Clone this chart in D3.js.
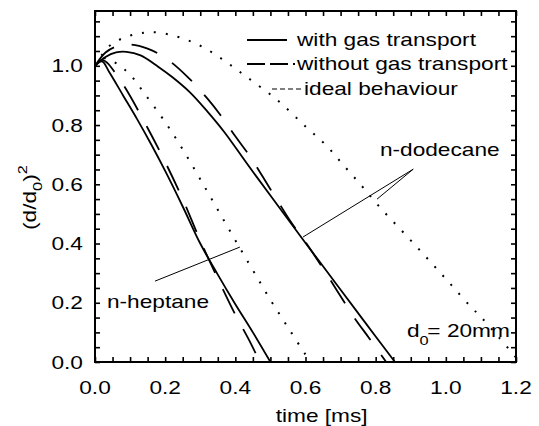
<!DOCTYPE html>
<html>
<head>
<meta charset="utf-8">
<script src="https://cdn.jsdelivr.net/npm/d3@7/dist/d3.min.js"></script>
<style>
  body { margin: 0; background: #fff; }
  text { font-family: "Liberation Sans", Arial, sans-serif; fill: #000; }
</style>
</head>
<body>
<svg id="chart" width="539" height="426"></svg>
<script>
// values: [time ms, (d/d0)^2]
var heptaneGas = [[0,1.0],[0.02,1.015],[0.04,0.98],[0.08,0.90],[0.12,0.82],[0.16,0.735],[0.2,0.645],
  [0.25,0.525],[0.3,0.40],[0.35,0.295],[0.4,0.195],[0.45,0.10],[0.5,0.0]];
var heptaneNoGas = [[0,1.0],[0.02,1.02],[0.035,1.01],[0.06,0.972],[0.09,0.918],[0.15,0.79],[0.2,0.675],
  [0.25,0.55],[0.3,0.41],[0.35,0.282],[0.4,0.16],[0.44,0.072],[0.47,0.0]];
var heptaneIdeal = [[0,1.0],[0.02,1.025],[0.04,1.022],[0.07,1.0],[0.1,0.97],[0.145,0.90],[0.2,0.81],
  [0.25,0.718],[0.3,0.617],[0.35,0.514],[0.4,0.411],[0.45,0.31],[0.5,0.21],[0.55,0.117],[0.6,0.025],[0.615,0.0]];
var dodecaneGas = [[0,1.0],[0.03,1.03],[0.06,1.045],[0.09,1.047],[0.13,1.035],[0.18,0.997],[0.22,0.962],
  [0.27,0.911],[0.32,0.846],[0.37,0.774],[0.43,0.675],[0.5,0.562],[0.55,0.482],[0.6,0.402],[0.65,0.323],
  [0.7,0.244],[0.75,0.165],[0.8,0.086],[0.855,0.0]];
var dodecaneNoGas = [[0,1.0],[0.03,1.045],[0.06,1.065],[0.1,1.072],[0.15,1.058],[0.2,1.027],[0.26,0.967],
  [0.32,0.89],[0.36,0.83],[0.4,0.762],[0.44,0.697],[0.48,0.622],[0.52,0.545],[0.56,0.47],[0.6,0.405],
  [0.66,0.297],[0.7,0.222],[0.74,0.148],[0.78,0.083],[0.83,0.0]];
var dodecaneIdeal = [[0,1.0],[0.035,1.06],[0.066,1.086],[0.1,1.102],[0.13,1.11],[0.16,1.114],[0.21,1.106],
  [0.265,1.086],[0.32,1.055],[0.375,1.012],[0.435,0.96],[0.52,0.884],[0.6,0.795],[0.66,0.73],[0.71,0.662],
  [0.76,0.595],[0.81,0.525],[0.865,0.455],[0.92,0.385],[0.97,0.32],[1.02,0.254],[1.07,0.188],[1.1,0.152],
  [1.15,0.085],[1.2,0.015]];

var xTickLabels = [0, 0.2, 0.4, 0.6, 0.8, 1.0, 1.2];
var yTickLabels = [0, 0.2, 0.4, 0.6, 0.8, 1.0];
var legendNames = ["with gas transport", "without gas transport", "ideal behaviour"];

var svg = d3.select("#chart"),
    margin = {left: 95, top: 11, right: 23, bottom: 64},
    width = +svg.attr("width") - margin.left - margin.right,
    height = +svg.attr("height") - margin.top - margin.bottom,
    stretch = 1.26;   // glyphs in the picture are wider than Arial

var x = d3.scaleLinear().domain([0, 1.2]).range([0, width]),
    y = d3.scaleLinear().domain([0, 1.185]).range([height, 0]);

var g = svg.append("g")
    .attr("transform", "translate(" + margin.left + "," + margin.top + ")");

g.append("clipPath").attr("id", "clip")
  .append("rect").attr("width", width).attr("height", height);

// ticks, inward on all four sides, every 0.05
var xMinor = d3.range(0, 1.2001, 0.05),
    yMinor = d3.range(0, 1.18, 0.05);
var tickLen = 5;

g.append("g").attr("class", "x axis")
  .attr("transform", "translate(0," + height + ")")
  .call(d3.axisBottom(x).tickValues(xMinor).tickSizeInner(-tickLen).tickSizeOuter(0).tickFormat(""));
g.append("g").attr("class", "x axis")
  .call(d3.axisTop(x).tickValues(xMinor).tickSizeInner(-tickLen).tickSizeOuter(0).tickFormat(""));
g.append("g").attr("class", "y axis")
  .call(d3.axisLeft(y).tickValues(yMinor).tickSizeInner(-tickLen).tickSizeOuter(0).tickFormat(""));
g.append("g").attr("class", "y axis")
  .attr("transform", "translate(" + width + ",0)")
  .call(d3.axisRight(y).tickValues(yMinor).tickSizeInner(-tickLen).tickSizeOuter(0).tickFormat(""));

g.selectAll(".axis .domain").remove();
g.selectAll(".axis line").attr("stroke", "#000").attr("stroke-width", 1.6);

g.append("rect")
  .attr("width", width).attr("height", height)
  .attr("fill", "none").attr("stroke", "#000").attr("stroke-width", 2);

function label(parent, px, py, str, anchor) {
  return parent.append("text")
    .attr("transform", "translate(" + px + "," + py + ") scale(" + stretch + ",1)")
    .attr("text-anchor", anchor || "start")
    .attr("font-size", "18px")
    .text(str);
}

xTickLabels.forEach(function(v) {
  label(g, x(v), height + 32, d3.format(".1f")(v), "middle");
});
yTickLabels.forEach(function(v) {
  label(g, -12, y(v) + 6.5, d3.format(".1f")(v), "end");
});

label(g, x(0.646), height + 60, "time [ms]", "middle");

var yt = svg.append("text")
  .attr("transform", "translate(36," + (margin.top + y(0.555)) + ") rotate(-90) scale(" + stretch + ",1)")
  .attr("text-anchor", "middle")
  .attr("font-size", "18px");
yt.append("tspan").text("(d/d");
yt.append("tspan").attr("font-size", "13px").attr("dy", 6).text("0");
yt.append("tspan").attr("dy", -6).text(")");
yt.append("tspan").attr("font-size", "13px").attr("dy", -9).text("2");

// curves
var line = d3.line()
  .x(function(d) { return x(d[0]); })
  .y(function(d) { return y(d[1]); })
  .curve(d3.curveCatmullRom.alpha(0.5));

var styles = {
  gas:   {dash: null,    w: 1.8},
  noGas: {dash: "27,18", w: 1.8},
  ideal: {dash: "2,10",  w: 2}
};

var series = [
  {data: heptaneGas, s: styles.gas},
  {data: heptaneNoGas, s: styles.noGas},
  {data: heptaneIdeal, s: styles.ideal},
  {data: dodecaneGas, s: styles.gas},
  {data: dodecaneNoGas, s: styles.noGas},
  {data: dodecaneIdeal, s: styles.ideal}
];

g.append("g").attr("clip-path", "url(#clip)")
  .selectAll(".curve")
  .data(series)
  .enter()
  .append("path")
  .attr("class", "curve")
  .attr("fill", "none")
  .attr("stroke", "#000")
  .attr("stroke-width", function(d) { return d.s.w; })
  .attr("stroke-dasharray", function(d) { return d.s.dash; })
  .attr("d", function(d) { return line(d.data); });

// legend
var legend = svg.append("g");
var legendRows = [
  {name: legendNames[0], x1: 247, x2: 287, ly: 40, tx: 297, ty: 46, dash: null, w: 1.8},
  {name: legendNames[1], x1: 247, x2: 295, ly: 64, tx: 297, ty: 70, dash: "18,5", w: 1.8},
  {name: legendNames[2], x1: 272, x2: 301, ly: 89, tx: 304, ty: 95, dash: "5,3", w: 1.2}
];
legendRows.forEach(function(r) {
  legend.append("line")
    .attr("x1", r.x1).attr("x2", r.x2).attr("y1", r.ly).attr("y2", r.ly)
    .attr("stroke", "#000").attr("stroke-width", r.w)
    .attr("stroke-dasharray", r.dash);
  label(legend, r.tx, r.ty, r.name);
});

// annotations
var pointers = [
  [[0.171, 0.273], [0.413, 0.388]],
  [[0.593, 0.422], [0.907, 0.651]],
  [[0.804, 0.550], [0.907, 0.651]]
];
g.selectAll(".pointer")
  .data(pointers)
  .enter()
  .append("line")
  .attr("class", "pointer")
  .attr("x1", function(d) { return x(d[0][0]); })
  .attr("y1", function(d) { return y(d[0][1]); })
  .attr("x2", function(d) { return x(d[1][0]); })
  .attr("y2", function(d) { return y(d[1][1]); })
  .attr("stroke", "#000")
  .attr("stroke-width", 1);

label(g, x(0.034), y(0.182), "n-heptane");
label(g, x(0.812), y(0.695), "n-dodecane");

var d0 = label(g, x(0.889), y(0.084), "d");
d0.append("tspan").attr("font-size", "13px").attr("dy", 8).text("0");
d0.append("tspan").attr("dy", -8).attr("dx", -1).text("= 20mm");
</script>
</body>
</html>
